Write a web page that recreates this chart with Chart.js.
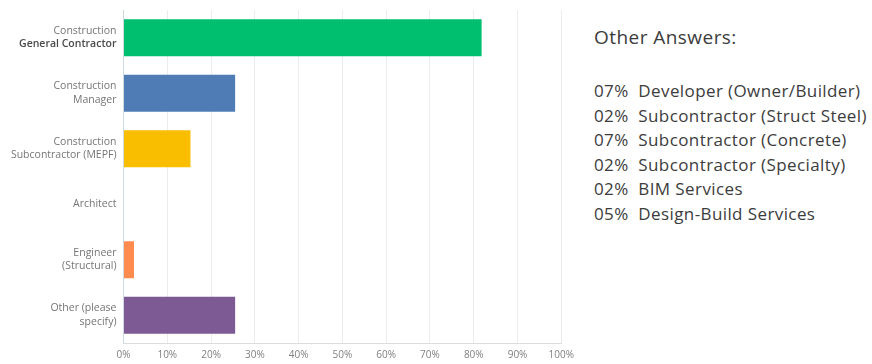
<!DOCTYPE html>
<html>
<head>
<meta charset="utf-8">
<script src="https://cdn.jsdelivr.net/npm/chart.js@4.4.1/dist/chart.umd.min.js"></script>
<style>
  html, body { margin: 0; padding: 0; background: #ffffff; }
  body { width: 872px; height: 364px; position: relative; overflow: hidden; }
  #wrap { position: absolute; left: 0; top: 0; width: 580px; height: 364px; }
  #other {
    position: absolute; left: 594px; top: 23px;
    font-family: "Open Sans", sans-serif; color: #3c3c3c;
  }
  #other h2 { margin: 0 0 28px 0; font-size: 19px; font-weight: normal; line-height: 28px; letter-spacing: 0.45px; }
  #other div.row { font-size: 17px; line-height: 24.6px; white-space: pre; letter-spacing: 0.4px; }
</style>
</head>
<body>
<div id="wrap"><canvas id="chart"></canvas></div>
<div id="other"><h2>Other Answers:</h2><div id="otherList"></div></div>
<script>
// Respondent roles (each entry is the wrapped label lines)
const CATEGORIES = [
  ["Construction", "General Contractor"],
  ["Construction", "Manager"],
  ["Construction", "Subcontractor (MEPF)"],
  ["Architect"],
  ["Engineer", "(Structural)"],
  ["Other (please", "specify)"],
];
// Share of responses, percent
const VALUES = [81.8, 25.5, 15.3, 0, 2.4, 25.5];
const BAR_COLORS = ["#00bf6f", "#507cb6", "#f9be00", "#6bc8cd", "#ff8b4f", "#7d5a94"];
const X_TICKS = [0, 10, 20, 30, 40, 50, 60, 70, 80, 90, 100];

// Write-in answers listed beside the chart
const OTHER_PCTS = ["07%", "02%", "07%", "02%", "02%", "05%"];
const OTHER_NAMES = [
  "Developer (Owner/Builder)",
  "Subcontractor (Struct Steel)",
  "Subcontractor (Concrete)",
  "Subcontractor (Specialty)",
  "BIM Services",
  "Design-Build Services",
];

const list = document.getElementById("otherList");
OTHER_NAMES.forEach((name, i) => {
  const row = document.createElement("div");
  row.className = "row";
  row.textContent = OTHER_PCTS[i] + "  " + name;
  list.appendChild(row);
});

// Line drawn darker/bolder in the category labels
const EMPHASIS = "General Contractor";

// Draws the two-line category labels, right aligned against the axis
const categoryLabels = {
  id: "categoryLabels",
  afterDraw(chart) {
    const scale = chart.scales.y;
    const ctx = chart.ctx;
    const lineH = 13.5;
    ctx.save();
    ctx.textAlign = "right";
    ctx.textBaseline = "middle";
    CATEGORIES.forEach((lines, i) => {
      const y = scale.getPixelForTick(i);
      const top = y - ((lines.length - 1) * lineH) / 2;
      lines.forEach((line, j) => {
        const strong = line === EMPHASIS;
        ctx.font = (strong ? "600 " : "") + "10.5px 'Open Sans', sans-serif";
        ctx.fillStyle = strong ? "#4a4a4a" : "#757575";
        ctx.fillText(line, scale.right - 7, top + j * lineH);
      });
    });
    ctx.restore();
  },
};

new Chart(document.getElementById("chart"), {
  type: "bar",
  data: {
    labels: CATEGORIES.map((c) => c.join(" ")),
    datasets: [
      {
        data: VALUES,
        backgroundColor: BAR_COLORS,
        borderWidth: 0,
        barPercentage: 0.667,
        categoryPercentage: 1,
      },
    ],
  },
  options: {
    indexAxis: "y",
    responsive: true,
    maintainAspectRatio: false,
    animation: false,
    layout: { padding: { left: 0, right: 16, top: 10, bottom: 0 } },
    plugins: { legend: { display: false }, tooltip: { enabled: false } },
    scales: {
      x: {
        min: 0,
        max: 100,
        afterBuildTicks: (scale) => {
          scale.ticks = X_TICKS.map((v) => ({ value: v }));
        },
        afterFit: (scale) => { scale.height = 21; },
        grid: { color: "#ececec", drawTicks: false },
        border: { color: "#dcdcdc" },
        ticks: {
          padding: 6,
          color: "#808080",
          font: { family: "'Open Sans', sans-serif", size: 10 },
          callback: (v) => v + "%",
        },
      },
      y: {
        afterFit: (scale) => { scale.width = 123.5; },
        grid: { display: false },
        border: { color: "#cfd8dc" },
        ticks: { display: false },
      },
    },
  },
  plugins: [categoryLabels],
});
</script>
</body>
</html>
